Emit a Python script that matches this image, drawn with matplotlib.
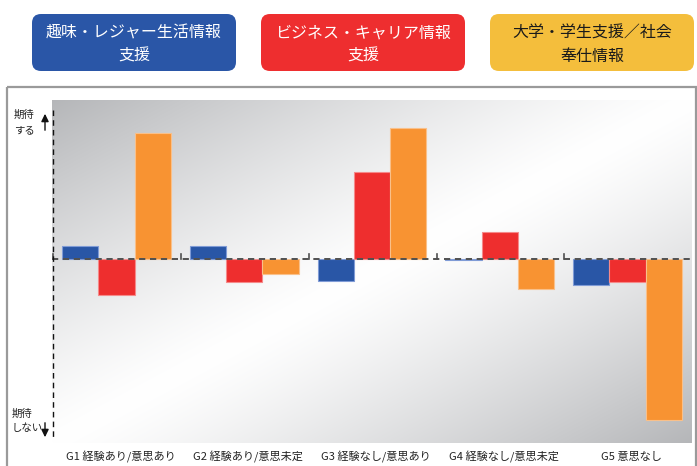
import numpy as np
import matplotlib
matplotlib.use("Agg")
import matplotlib.pyplot as plt
from matplotlib.patches import FancyBboxPatch, Rectangle

plt.rcParams['font.family'] = ['Noto Sans CJK JP', 'DejaVu Sans']

# ---- data (relative expectation score, positive = 期待する) ----
categories = ["G1 経験あり/意思あり", "G2 経験あり/意思未定", "G3 経験なし/意思あり",
              "G4 経験なし/意思未定", "G5 意思なし"]
series_names = ["趣味・レジャー生活情報\n支援", "ビジネス・キャリア情報\n支援", "大学・学生支援／社会\n奉仕情報"]
hobby = [12.5, 12.5, -22.5, -1.0, -26.5]
business = [-36.5, -23.5, 86.5, 26.5, -23.5]
university = [126.0, -15.5, 130.5, -30.5, -161.5]

bar_colors = ["#2956a6", "#ee2e2e", "#f89332"]
edge_colors = ["#7f9bd6", "#f58a8a", "#f9c08a"]
box_colors = ["#2a56a7", "#ee2e2f", "#f4be3c"]
box_text_colors = ["white", "white", "#1a1a1a"]

W, H = 697, 466
fig = plt.figure(figsize=(W / 100, H / 100), dpi=100)

# overlay axes in pixel coordinates for decorations
ov = fig.add_axes([0, 0, 1, 1], zorder=0)
ov.set_xlim(0, W)
ov.set_ylim(H, 0)
ov.axis("off")

# outer frame
ov.add_patch(Rectangle((7, 87), 689, 420, fill=False, edgecolor="#9a9a9a", lw=1.6))

# header legend boxes
box_x = [32, 261, 490]
for bx, name, fc, tc in zip(box_x, series_names, box_colors, box_text_colors):
    ov.add_patch(FancyBboxPatch((bx, 14), 204, 57, boxstyle="round,pad=0,rounding_size=9",
                                facecolor=fc, edgecolor="none"))
    ov.text(bx + 102, 44.5, name, ha="center", va="center", color=tc, fontsize=11.5,
            linespacing=1.5)

# main axes
left, right, top, bottom = 52, 692, 100, 443
ax = fig.add_axes([left / W, 1 - bottom / H, (right - left) / W, (bottom - top) / H], zorder=1)
xlim = (-0.505, 4.505)
ylim = (-184.5, 158.5)
ax.set_xlim(*xlim)
ax.set_ylim(*ylim)
ax.axis("off")

# gradient background
nx, ny = 400, 300
u = np.linspace(0, 1, nx)[None, :]
v = np.linspace(0, 1, ny)[:, None]
t = (u + v) / 2
d = np.abs(t - 0.5) / 0.5
g = 1 - 0.28 * d ** 1.25
img = np.stack([g - 0.01 * d, g - 0.005 * d, g + 0.005 * d], axis=-1)
img = np.clip(img, 0, 1)
ax.imshow(img, extent=(xlim[0], xlim[1], ylim[0], ylim[1]), aspect="auto",
          origin="upper", zorder=0, interpolation="bilinear")

x = np.arange(len(categories))
bw = 0.284
for i, (vals, c, ec) in enumerate(zip([hobby, business, university], bar_colors, edge_colors)):
    ax.bar(x + (i - 1) * bw, vals, width=bw, color=c, edgecolor=ec, linewidth=0.8, zorder=2)

# zero dashed line with small group ticks
ax.plot(xlim, [0, 0], color="#505050", lw=1.4, linestyle=(0, (3.2, 2.4)), zorder=3)
for b in np.arange(-0.5, 4.0, 1.0):
    ax.plot([b + 0.005, b + 0.005], [0, 5], color="#505050", lw=1.2, zorder=3)

# left dashed axis
ax.plot([xlim[0] + 0.004] * 2, [148.5, -178.5], color="#111111", lw=1.0,
        linestyle=(0, (4, 3)), zorder=3, clip_on=False)

# arrows and axis words
ov.annotate("", xy=(45, 111), xytext=(45, 133),
            arrowprops=dict(arrowstyle="-|>,head_length=0.45,head_width=0.22", color="#111111", lw=1.0))
ov.annotate("", xy=(45, 440), xytext=(45, 420),
            arrowprops=dict(arrowstyle="-|>,head_length=0.45,head_width=0.22", color="#111111", lw=1.0))
ov.text(14, 115, "期待", ha="left", va="center", fontsize=7.5, color="#222222")
ov.text(14, 130, "する", ha="left", va="center", fontsize=7.5, color="#222222")
ov.text(12, 414, "期待", ha="left", va="center", fontsize=7.5, color="#222222")
ov.text(12, 428, "しない", ha="left", va="center", fontsize=7.5, color="#222222")

# category labels
for xi, cat in zip(x, categories):
    px = left + (xi - xlim[0]) / (xlim[1] - xlim[0]) * (right - left)
    ov.text(px + 4, 457, cat, ha="center", va="center", fontsize=8, color="#222222")

fig.savefig("out.png", dpi=100)
